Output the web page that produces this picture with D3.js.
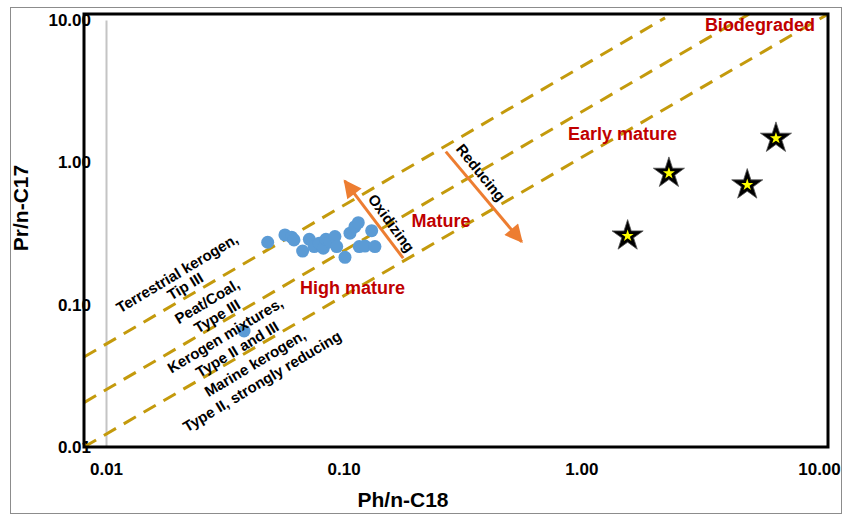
<!DOCTYPE html>
<html>
<head>
<meta charset="utf-8">
<script src="https://cdn.jsdelivr.net/npm/d3@7"></script>
<style>
  body { margin: 0; background: #fff; }
  svg { display: block; font-family: Arial, "Liberation Sans", sans-serif; }
</style>
</head>
<body>
<div id="chart"></div>
<script>
// sample data (Ph/n-C18 vs Pr/n-C17)
const dotX = [0.0479, 0.0566, 0.0604, 0.0618, 0.0672, 0.0717, 0.0752, 0.0789, 0.0821, 0.0842, 0.0876,
              0.0919, 0.0935, 0.1013, 0.1063, 0.1115, 0.1152, 0.1163, 0.1229, 0.1312, 0.1354, 0.0381];
const dotY = [0.2745, 0.309, 0.298, 0.285, 0.238, 0.288, 0.256, 0.270, 0.249, 0.288, 0.277,
              0.301, 0.256, 0.215, 0.318, 0.353, 0.377, 0.256, 0.258, 0.331, 0.256, 0.0653];
const starX = [1.566, 2.336, 4.99, 6.59];
const starY = [0.304, 0.838, 0.694, 1.477];

const tickVals = [0.01, 0.1, 1, 10];

// dashed boundary lines, [x0, y0, x1, y1] in data units
const boundaries = [
  [0.00808, 0.0429, 2.25, 10.35],
  [0.00808, 0.0205, 5.07, 11.0],
  [0.00808, 0.01, 10.9, 11.0]
];

// arrows, [x0, y0, x1, y1] (tip at x1,y1)
const arrows = [
  [0.178, 0.212, 0.101, 0.740],
  [0.269, 1.189, 0.561, 0.277]
];

// red zone labels
const zoneText = ['Biodegraded', 'Early mature', 'Mature', 'High mature'];
const zoneX = [5.64, 1.489, 0.2566, 0.1089];
const zoneY = [9.24, 1.584, 0.387, 0.131];

// black rotated labels
const noteText = ['Terrestrial kerogen,', 'Tip III', 'Peat/Coal,', 'Type III', 'Kerogen mixtures,',
                  'Type II and III', 'Marine kerogen,', 'Type II, strongly reducing', 'Oxidizing', 'Reducing'];
const noteX = [0.0199, 0.0215, 0.0266, 0.0293, 0.0317, 0.0356, 0.0423, 0.0453, 0.159, 0.378];
const noteY = [0.167, 0.135, 0.106, 0.0833, 0.0612, 0.0488, 0.0389, 0.0291, 0.375, 0.849];
const noteAngle = [-31, -31, -31, -31, -31, -31, -31, -31, 54, 51];

const W = 843, H = 518;
const frame = { left: 84, top: 14, right: 828, bottom: 447 };

const svg = d3.select('#chart').append('svg')
  .attr('width', W)
  .attr('height', H);

// outer border
svg.append('rect')
  .attr('x', 10.5).attr('y', 7.5)
  .attr('width', 831).attr('height', 506)
  .attr('fill', '#fff')
  .attr('stroke', '#8c8c8c')
  .attr('stroke-width', 1);

const x = d3.scaleLog().domain([0.01, 10]).range([106, 819]);
const y = d3.scaleLog().domain([0.01, 10]).range([447, 20]);

// y axis (gray line at 0.01)
const yAxis = svg.append('g')
  .attr('transform', `translate(${x(0.01)},0)`)
  .call(d3.axisLeft(y).tickValues(tickVals).tickFormat(d3.format('.2f')).tickSize(0).tickPadding(15));
yAxis.select('.domain').attr('stroke', '#c4c4c4').attr('stroke-width', 2);
yAxis.selectAll('text')
  .attr('font-size', 17).attr('font-weight', 'bold').attr('fill', '#000')
  .style('font-family', 'Arial, "Liberation Sans", sans-serif');

const xAxis = svg.append('g')
  .attr('transform', `translate(0,${y(0.01)})`)
  .call(d3.axisBottom(x).tickValues(tickVals).tickFormat(d3.format('.2f')).tickSize(0).tickPadding(16));
xAxis.select('.domain').remove();
xAxis.selectAll('text')
  .attr('font-size', 17).attr('font-weight', 'bold').attr('fill', '#000')
  .style('font-family', 'Arial, "Liberation Sans", sans-serif');

// dashed lines
svg.selectAll('.bound')
  .data(boundaries)
  .enter().append('line')
  .attr('class', 'bound')
  .attr('x1', d => x(d[0])).attr('y1', d => y(d[1]))
  .attr('x2', d => x(d[2])).attr('y2', d => y(d[3]))
  .attr('stroke', '#C49A0C')
  .attr('stroke-width', 3)
  .attr('stroke-dasharray', '14,9');

// arrows
svg.append('defs').append('marker')
  .attr('id', 'head')
  .attr('viewBox', '0 0 10 10')
  .attr('refX', 9).attr('refY', 5)
  .attr('markerUnits', 'userSpaceOnUse')
  .attr('markerWidth', 20).attr('markerHeight', 18)
  .attr('orient', 'auto')
  .append('path')
  .attr('d', 'M0,0 L10,5 L0,10 z')
  .attr('fill', '#ED7D31');

svg.selectAll('.arrow')
  .data(arrows)
  .enter().append('line')
  .attr('class', 'arrow')
  .attr('x1', d => x(d[0])).attr('y1', d => y(d[1]))
  .attr('x2', d => x(d[2])).attr('y2', d => y(d[3]))
  .attr('stroke', '#ED7D31')
  .attr('stroke-width', 3)
  .attr('marker-end', 'url(#head)');

// blue dots
svg.selectAll('.dot')
  .data(dotX.map((v, i) => [v, dotY[i]]))
  .enter().append('circle')
  .attr('class', 'dot')
  .attr('cx', d => x(d[0])).attr('cy', d => y(d[1]))
  .attr('r', 6.5)
  .attr('fill', '#5B9BD5');

// stars
const bigStar = d3.symbol().type(d3.symbolStar).size(300);
const smallStar = d3.symbol().type(d3.symbolStar).size(45);
const stars = svg.selectAll('.star')
  .data(starX.map((v, i) => [v, starY[i]]))
  .enter().append('g')
  .attr('class', 'star')
  .attr('transform', d => `translate(${x(d[0])},${y(d[1])})`);
stars.append('path').attr('d', bigStar).attr('fill', '#000').attr('stroke', '#555').attr('stroke-width', 0.8);
stars.append('path').attr('d', smallStar).attr('fill', '#FFFF00');

// frame
svg.append('rect')
  .attr('x', frame.left).attr('y', frame.top)
  .attr('width', frame.right - frame.left)
  .attr('height', frame.bottom - frame.top)
  .attr('fill', 'none')
  .attr('stroke', '#000')
  .attr('stroke-width', 3);

// red labels
svg.selectAll('.zone')
  .data(zoneText)
  .enter().append('text')
  .attr('class', 'zone')
  .attr('x', (d, i) => x(zoneX[i]))
  .attr('y', (d, i) => y(zoneY[i]))
  .attr('text-anchor', 'middle')
  .attr('dominant-baseline', 'central')
  .attr('font-size', 18)
  .attr('font-weight', 'bold')
  .attr('fill', '#C00000')
  .text(d => d);

// black labels
svg.selectAll('.note')
  .data(noteText)
  .enter().append('text')
  .attr('class', 'note')
  .attr('transform', (d, i) => `translate(${x(noteX[i])},${y(noteY[i])}) rotate(${noteAngle[i]})`)
  .attr('text-anchor', 'middle')
  .attr('dominant-baseline', 'central')
  .attr('font-size', 15)
  .attr('font-weight', 'bold')
  .attr('fill', '#000')
  .text(d => d);

// axis titles
svg.append('text')
  .attr('transform', 'translate(20,208) rotate(-90)')
  .attr('text-anchor', 'middle')
  .attr('dominant-baseline', 'central')
  .attr('font-size', 21)
  .attr('font-weight', 'bold')
  .text('Pr/n-C17');

svg.append('text')
  .attr('x', 403)
  .attr('y', 499)
  .attr('text-anchor', 'middle')
  .attr('dominant-baseline', 'central')
  .attr('font-size', 21)
  .attr('font-weight', 'bold')
  .text('Ph/n-C18');
</script>
</body>
</html>
